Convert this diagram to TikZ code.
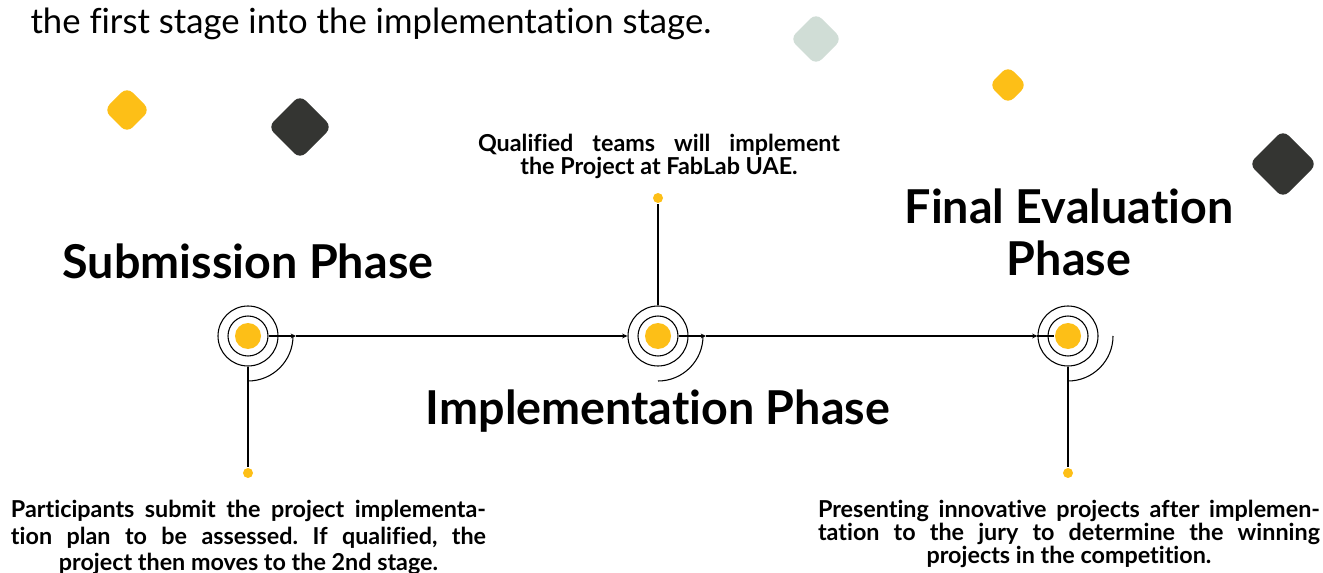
\documentclass[tikz,border=0pt]{standalone}
\usepackage{fontspec}
\setmainfont{Lato}[Ligatures={NoCommon,NoRare}]
\frenchspacing
\usetikzlibrary{arrows.meta}
\definecolor{ylw}{HTML}{FDBF17}
\definecolor{drk}{HTML}{343532}
\definecolor{pale}{HTML}{D0DDD6}
\begin{document}
\begin{tikzpicture}[x=0.75pt,y=-0.75pt,line width=0.8pt,
  ring/.style={circle,draw=black,line width=0.8pt,inner sep=0pt,minimum size=#1},
  disk/.style={circle,fill=ylw,inner sep=0pt,minimum size=#1},
  heading/.style={anchor=base,inner sep=0pt,font=\bfseries\fontsize{35}{40}\selectfont},
  desc/.style={anchor=base,inner sep=0pt,font=\bfseries\fontsize{17.5}{21}\selectfont},
  tip/.style={-{Stealth[length=4pt,width=3.6pt]}},
  gem/.style={rounded corners=6pt}]
\useasboundingbox (0,0) rectangle (1323,573);
% decorative diamonds
\fill[ylw,gem]  (127,87) -- (150,110) -- (127,133) -- (104,110) -- cycle;
\fill[drk,gem]  (300,95) -- (332,127) -- (300,159) -- (268,127) -- cycle;
\fill[pale,gem] (816,13) -- (842,39) -- (816,65) -- (790,39) -- cycle;
\fill[ylw,gem]  (1008,66) -- (1027,85) -- (1008,104) -- (989,85) -- cycle;
\fill[drk,gem]  (1283,130) -- (1317,164) -- (1283,198) -- (1249,164) -- cycle;
% intro text
\node[anchor=base west,inner sep=0pt,font=\fontsize{26}{30}\selectfont] (intro) at (30,34) {the first stage into the implementation stage.};
% stage markers
\foreach \n/\x in {s/248,i/658,f/1068}{
  \node[disk=19.5pt] (\n disk) at (\x,336) {};
  \node[ring=30pt] (\n in) at (\x,336) {};
  \node[ring=45pt] (\n out) at (\x,336) {};
  \draw ([xshift=33.75pt]\n disk.center) arc[start angle=0,end angle=90,radius=45];
}
\node[disk=7.5pt] (sdot) at (248,473) {};
\node[disk=7.5pt] (idot) at (658,198) {};
\node[disk=7.5pt] (fdot) at (1068,473) {};
\coordinate (sa) at (296,336);
\coordinate (ia) at (706,336);
% connectors
\draw[tip] (sin.east) -- (sa);
\draw[tip] (sa) -- (iout.west);
\draw[tip] (iin.east) -- (ia);
\draw[tip] (ia) -- (fout.west);
\draw (fout.west) -- (fdisk.west);
\draw (sout.south) -- (sdot);
\draw (iout.north) -- (idot);
\draw (fout.south) -- (fdot);
% headings
\node[heading] (hs) at (248,279) {Submission Phase};
\node[heading] (hi) at (658,424) {Implementation Phase};
\node[heading] (hf1) at (1069,224) {Final Evaluation};
\node[heading] (hf2) at (1069,276) {Phase};
% descriptions
\node[desc] (q1) at (659,152) {\makebox[271.5pt][s]{Qualified teams will implement}};
\node[desc] (q2) at (659,175) {the Project at FabLab UAE.};
\node[desc] (p1) at (248.5,517) {\makebox[356.25pt][s]{Participants submit the project implementa-}};
\node[desc] (p2) at (248.5,544) {\makebox[356.25pt][s]{tion plan to be assessed. If qualified, the}};
\node[desc] (p3) at (248.5,570) {project then moves to the 2nd stage.};
\node[desc] (r1) at (1069,517) {\makebox[376.5pt][s]{Presenting innovative projects after implemen-}};
\node[desc] (r2) at (1069,540) {\makebox[376.5pt][s]{tation to the jury to determine the winning}};
\node[desc] (r3) at (1069,563) {projects in the competition.};
\end{tikzpicture}
\end{document}
